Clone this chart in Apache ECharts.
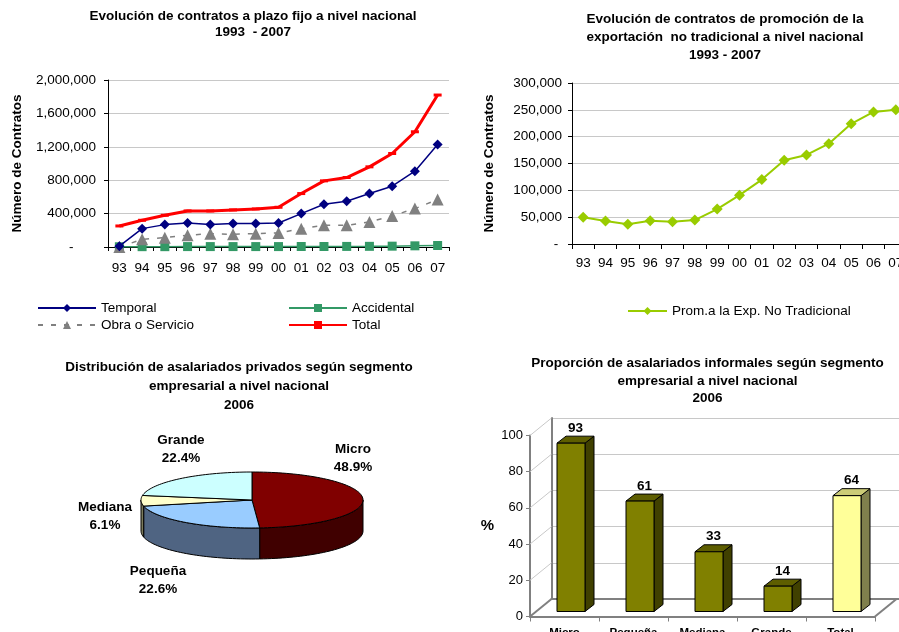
<!DOCTYPE html>
<html lang="es">
<head>
<meta charset="UTF-8">
<title>Contratos y asalariados</title>
<style>
html,body{margin:0;padding:0;background:#fff;}
#chart{width:899px;height:632px;}
</style>
</head>
<body>
<div id="chart"></div>
<script src="https://cdn.jsdelivr.net/npm/echarts@6/dist/echarts.min.js"></script>
<script>
// datos de los graficos de lineas
var years = ['93','94','95','96','97','98','99','00','01','02','03','04','05','06','07'];
var temporal = [10000, 220000, 268000, 288000, 268000, 280000, 280000, 288000, 400000, 512000, 548000, 640000, 728000, 908000, 1228000];
var accidental = [3000, 4000, 4000, 5000, 5000, 5000, 5000, 5000, 6000, 6000, 7000, 8000, 10000, 14000, 18000];
var obraServicio = [0, 92000, 112000, 140000, 160000, 152000, 160000, 168000, 220000, 260000, 260000, 300000, 372000, 460000, 568000];
var total = [252000, 320000, 380000, 432000, 432000, 444000, 456000, 476000, 640000, 792000, 832000, 960000, 1120000, 1380000, 1820000];
var promExp = [50000, 43000, 37000, 43500, 41500, 44500, 65000, 91000, 120000, 156000, 166000, 187000, 224000, 246000, 250000];

// torta y barras 2006
var segmentos = ['Micro', 'Pequeña', 'Mediana', 'Grande'];
var pieValues = [48.9, 22.6, 6.1, 22.4];
var barCats = ['Micro', 'Pequeña', 'Mediana', 'Grande', 'Total'];
var barValues = [93, 61, 33, 14, 64];
var pctTicks = [0, 20, 40, 60, 80, 100];

var FONT = '"Liberation Sans", Arial, sans-serif';
var FS = 13.5;

function miles(v) {
    return String(v).replace(/\B(?=(\d{3})+(?!\d))/g, ',');
}

var myChart = echarts.init(document.getElementById('chart'));

// ---- torta 3D (custom) ----
var pieCx = 252, pieCy = 500, pieRx = 111, pieRy = 28, pieDepth = 31;
var pieTop = ['#800000', '#99CCFF', '#FFFFCC', '#CCFFFF'];
var pieSide = ['#400000', '#4F6482', '#7A7A5C', '#668080'];
var pieLabelAt = [[353, 458], [158, 580], [105, 516], [181, 449]];

function ellPt(deg, dy) {
    var r = deg * Math.PI / 180;
    return [pieCx + pieRx * Math.sin(r), pieCy - pieRy * Math.cos(r) + (dy || 0)];
}

function renderSlice(params, api) {
    var i = params.dataIndex;
    var sum = 0, start = 0;
    for (var j = 0; j < pieValues.length; j++) {
        sum += pieValues[j];
        if (j < i) start += pieValues[j];
    }
    var a0 = start / sum * 360, a1 = (start + api.value(0)) / sum * 360;
    var children = [];
    var pts = [[pieCx, pieCy]], a;
    for (a = a0; a < a1; a += 2) pts.push(ellPt(a));
    pts.push(ellPt(a1));
    children.push({type: 'polygon', z2: 10, shape: {points: pts},
        style: {fill: pieTop[i], stroke: '#000', lineWidth: 1}});
    // pared lateral (solo mitad frontal)
    var s0 = Math.max(a0, 90), s1 = Math.min(a1, 270);
    if (s1 > s0) {
        var up = [], down = [];
        for (a = s0; a < s1; a += 2) { up.push(ellPt(a)); down.push(ellPt(a, pieDepth)); }
        up.push(ellPt(s1)); down.push(ellPt(s1, pieDepth));
        children.push({type: 'polygon', z2: 1, shape: {points: up.concat(down.reverse())},
            style: {fill: pieSide[i], stroke: '#000', lineWidth: 1}});
    }
    children.push({type: 'text', z2: 20, x: pieLabelAt[i][0], y: pieLabelAt[i][1],
        style: {text: segmentos[i] + '\n' + api.value(0).toFixed(1) + '%', fontFamily: FONT,
            fontSize: FS, fontWeight: 'bold', fill: '#000', align: 'center', verticalAlign: 'middle', lineHeight: 18}});
    return {type: 'group', children: children};
}

// ---- barras 3D (custom) ----
var depX = 21.5, depY = 17.5;
function renderBar(params, api) {
    var i = params.dataIndex;
    var base = api.coord([api.value(0), 0]);
    var top = api.coord([api.value(0), api.value(1)]);
    var w = 28, sx = 6.5, sy = 5, bx = 9, by = 7;
    var xl = base[0] - w / 2 + sx, xr = xl + w;
    var yb = base[1] - sy, yt = top[1] - sy;
    var front = i === 4 ? '#FFFF99' : '#808000';
    var topC = i === 4 ? '#CCCC77' : '#5E5E00';
    var side = i === 4 ? '#80804D' : '#404000';
    var st = {stroke: '#000', lineWidth: 1};
    return {type: 'group', children: [
        {type: 'polygon', shape: {points: [[xr, yt], [xr + bx, yt - by], [xr + bx, yb - by], [xr, yb]]},
            style: Object.assign({fill: side}, st)},
        {type: 'polygon', shape: {points: [[xl, yt], [xr, yt], [xr + bx, yt - by], [xl + bx, yt - by]]},
            style: Object.assign({fill: topC}, st)},
        {type: 'rect', shape: {x: xl, y: yt, width: w, height: yb - yt},
            style: Object.assign({fill: front}, st)},
        {type: 'text', x: xl + w / 2 + bx / 2, y: yt - by - 1,
            style: {text: String(api.value(1)), fontFamily: FONT, fontSize: FS, fontWeight: 'bold',
                fill: '#000', align: 'center', verticalAlign: 'bottom'}}
    ]};
}

// pared izquierda y borde del piso
function renderWall(params, api) {
    var v = api.value(0);
    var p = api.coord([0, v]);
    var band = api.size([1, 0])[0];
    var x0 = p[0] - band / 2;
    var kids = [{type: 'line', shape: {x1: x0, y1: p[1], x2: x0 + depX, y2: p[1] - depY},
        style: {stroke: v === 0 ? '#808080' : '#C8C8C8', lineWidth: v === 0 ? 2 : 1}}];
    if (v === 0) {
        var x1 = x0 + band * barCats.length;
        kids.push({type: 'line', shape: {x1: x1, y1: p[1], x2: x1 + depX, y2: p[1] - depY},
            style: {stroke: '#808080', lineWidth: 2}});
    }
    return {type: 'group', children: kids};
}

function titleText(x, y, txt, lh) {
    return {type: 'text', x: x, y: y,
        style: {text: txt, fontFamily: FONT, fontSize: FS, fontWeight: 'bold', fill: '#000',
            align: 'center', verticalAlign: 'middle', lineHeight: lh}};
}

var axisTxt = {color: '#000', fontFamily: FONT, fontSize: FS};
var nameTxt = {color: '#000', fontFamily: FONT, fontSize: FS, fontWeight: 'bold'};
var legTxt = {color: '#000', fontSize: FS, fontFamily: FONT};

var option = {
    animation: false,
    textStyle: {fontFamily: FONT},
    graphic: [
        titleText(253, 24.5, 'Evolución de contratos a plazo fijo a nivel nacional\n1993  - 2007', 15.5),
        titleText(725, 37, 'Evolución de contratos de promoción de la\nexportación  no tradicional a nivel nacional\n1993 - 2007', 18),
        titleText(239, 386.5, 'Distribución de asalariados privados según segmento\nempresarial a nivel nacional\n2006', 19),
        titleText(707.5, 381, 'Proporción de asalariados informales según segmento\nempresarial a nivel nacional\n2006', 17.5)
    ],
    legend: [
        {data: ['Temporal', 'Obra o Servicio'], orient: 'vertical', left: 32, top: 296,
            itemWidth: 58, itemHeight: 10, itemGap: 3, textStyle: legTxt},
        {data: ['Accidental', 'Total'], orient: 'vertical', left: 283, top: 296,
            itemWidth: 58, itemHeight: 10, itemGap: 3, textStyle: legTxt},
        {data: ['Prom.a la Exp. No Tradicional'], left: 622, top: 299,
            itemWidth: 39, itemHeight: 10, textStyle: legTxt}
    ],
    grid: [
        {left: 108, top: 80, width: 341, height: 167, containLabel: false, outerBoundsMode: 'none'},
        {left: 572, top: 83, width: 335, height: 161, containLabel: false, outerBoundsMode: 'none'},
        {left: 530, top: 435.5, width: 345, height: 181, containLabel: false, outerBoundsMode: 'none'},
        {left: 551.5, top: 418, width: 360, height: 181, containLabel: false, outerBoundsMode: 'none'}
    ],
    xAxis: [
        {type: 'category', gridIndex: 0, data: years, boundaryGap: true,
            axisLine: {lineStyle: {color: '#000'}}, axisTick: {show: true, length: 4, lineStyle: {color: '#000'}},
            axisLabel: Object.assign({interval: 0, margin: 14}, axisTxt)},
        {type: 'category', gridIndex: 1, data: years, boundaryGap: true,
            axisLine: {lineStyle: {color: '#000'}}, axisTick: {show: true, length: 5, lineStyle: {color: '#000'}},
            axisLabel: Object.assign({interval: 0, margin: 12}, axisTxt)},
        {type: 'category', gridIndex: 2, data: barCats, boundaryGap: true,
            axisLine: {lineStyle: {color: '#808080', width: 2}}, axisTick: {show: true, length: 5, lineStyle: {color: '#808080'}},
            axisLabel: {interval: 0, margin: 10, color: '#000', fontFamily: FONT, fontSize: 11.5, fontWeight: 'bold'}},
        {type: 'category', gridIndex: 3, data: barCats, boundaryGap: true,
            axisLine: {lineStyle: {color: '#808080', width: 2}}, axisTick: {show: false}, axisLabel: {show: false}}
    ],
    yAxis: [
        {type: 'value', gridIndex: 0, min: 0, max: 2000000, interval: 400000,
            name: 'Número de Contratos', nameLocation: 'middle', nameRotate: 90, nameGap: 84, nameTextStyle: nameTxt,
            axisLine: {show: true, lineStyle: {color: '#000'}}, axisTick: {show: true, length: 4, lineStyle: {color: '#000'}},
            splitLine: {lineStyle: {color: '#C8C8C8'}},
            axisLabel: Object.assign({margin: 12, formatter: function (v) { return v === 0 ? '-      ' : miles(v); }}, axisTxt)},
        {type: 'value', gridIndex: 1, min: 0, max: 300000, interval: 50000,
            name: 'Número de Contratos', nameLocation: 'middle', nameRotate: 90, nameGap: 76, nameTextStyle: nameTxt,
            axisLine: {show: true, lineStyle: {color: '#000'}}, axisTick: {show: true, length: 4, lineStyle: {color: '#000'}},
            splitLine: {lineStyle: {color: '#C8C8C8'}},
            axisLabel: Object.assign({margin: 10, formatter: function (v) { return v === 0 ? '- ' : miles(v); }}, axisTxt)},
        {type: 'value', gridIndex: 2, min: 0, max: 100, interval: 20,
            name: '%', nameLocation: 'middle', nameRotate: 0, nameGap: 36,
            nameTextStyle: {color: '#000', fontFamily: FONT, fontSize: 15, fontWeight: 'bold'},
            axisLine: {show: true, lineStyle: {color: '#808080', width: 2}}, axisTick: {show: true, length: 4, lineStyle: {color: '#808080'}},
            splitLine: {show: false},
            axisLabel: {margin: 7, color: '#000', fontFamily: FONT, fontSize: 13}},
        {type: 'value', gridIndex: 3, min: 0, max: 100, interval: 20,
            axisLine: {show: true, lineStyle: {color: '#808080', width: 2}}, axisTick: {show: false}, axisLabel: {show: false},
            splitLine: {lineStyle: {color: '#C8C8C8'}}}
    ],
    series: [
        {name: 'Temporal', type: 'line', xAxisIndex: 0, yAxisIndex: 0, data: temporal,
            symbol: 'diamond', symbolSize: 10, color: '#000080', lineStyle: {width: 1.5, color: '#000080'}, z: 4},
        {name: 'Accidental', type: 'line', xAxisIndex: 0, yAxisIndex: 0, data: accidental,
            symbol: 'rect', symbolSize: 9, color: '#339966', lineStyle: {width: 1.5, color: '#339966'}, z: 3},
        {name: 'Obra o Servicio', type: 'line', xAxisIndex: 0, yAxisIndex: 0, data: obraServicio,
            symbol: 'triangle', symbolSize: 12, color: '#808080', lineStyle: {width: 1.5, color: '#808080', type: [5, 8]}, z: 3},
        {name: 'Total', type: 'line', xAxisIndex: 0, yAxisIndex: 0, data: total,
            symbol: 'rect', symbolSize: [8, 3], color: '#FF0000', lineStyle: {width: 3, color: '#FF0000'}, z: 5},
        {name: 'Prom.a la Exp. No Tradicional', type: 'line', xAxisIndex: 1, yAxisIndex: 1, data: promExp,
            symbol: 'diamond', symbolSize: 11, color: '#99CC00', lineStyle: {width: 2, color: '#99CC00'}},
        {type: 'custom', name: 'segmentos', coordinateSystem: 'none', silent: true,
            data: pieValues, renderItem: renderSlice},
        {type: 'custom', name: 'pared', xAxisIndex: 2, yAxisIndex: 2, silent: true, z: 1,
            data: pctTicks.map(function (v) { return [v]; }), encode: {y: 0}, renderItem: renderWall},
        {type: 'custom', name: 'informales', xAxisIndex: 2, yAxisIndex: 2, silent: true, z: 3,
            data: barValues.map(function (v, i) { return [i, v]; }), encode: {x: 0, y: 1}, renderItem: renderBar}
    ]
};

myChart.setOption(option);
</script>
</body>
</html>
